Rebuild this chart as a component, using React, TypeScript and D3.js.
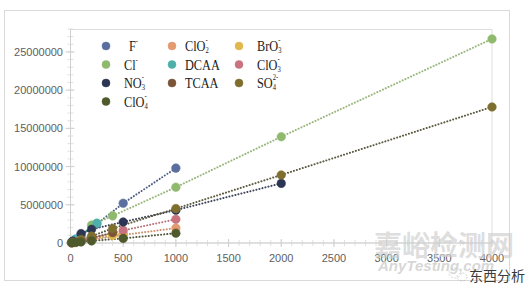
import React from "react";
import * as d3 from "d3";

// ---- data ----
const seriesNames = ["F", "ClO2", "BrO3", "Cl", "DCAA", "ClO3", "NO3", "TCAA", "SO4", "ClO4"];

const fX = [10, 50, 100, 250, 500, 1000];
const fY = [95000, 480000, 970000, 2500000, 5200000, 9800000];
const clo2X = [10, 50, 100, 200, 500, 1000];
const clo2Y = [25000, 110000, 220000, 420000, 1050000, 1950000];
const bro3X = [20, 100, 200, 400, 500];
const bro3Y = [50000, 250000, 500000, 1000000, 1250000];
const clX = [20, 50, 100, 200, 400, 1000, 2000, 4000];
const clY = [140000, 350000, 700000, 2350000, 3550000, 7300000, 13900000, 26700000];
const dcaaX = [10, 50, 100, 250];
const dcaaY = [110000, 520000, 1050000, 2600000];
const clo3X = [10, 50, 100, 200, 500, 1000];
const clo3Y = [30000, 160000, 320000, 650000, 1650000, 3100000];
const no3X = [20, 100, 200, 500, 1000, 2000];
const no3Y = [250000, 1230000, 1800000, 2750000, 4300000, 7800000];
const tcaaX = [20, 100, 200, 400];
const tcaaY = [70000, 330000, 650000, 1350000];
const so4X = [20, 100, 200, 400, 1000, 2000, 4000];
const so4Y = [90000, 450000, 900000, 1900000, 4500000, 8900000, 17800000];
const clo4X = [10, 50, 100, 200, 500, 1000];
const clo4Y = [15000, 70000, 140000, 280000, 600000, 1280000];

const xTicks = [0, 500, 1000, 1500, 2000, 2500, 3000, 3500, 4000];
const yTicks = [0, 5000000, 10000000, 15000000, 20000000, 25000000];

// label parts: [base, sub, sup]
const labelParts: [string, string, string][] = [
  ["F", "", "-"],
  ["ClO", "2", "-"],
  ["BrO", "3", "-"],
  ["Cl", "", "-"],
  ["DCAA", "", ""],
  ["ClO", "3", "-"],
  ["NO", "3", "-"],
  ["TCAA", "", ""],
  ["SO", "4", "2-"],
  ["ClO", "4", "-"],
];

const colors = ["#5b6f9e", "#e39a70", "#e0b84c", "#8fb96c", "#4fb0aa", "#c9737f", "#2c3654", "#7b5438", "#7f6f2e", "#4f5a2c"];
const lineColors = ["#3e4f7a", "#c9845e", "#c9a03a", "#8fb070", "#3f8f8a", "#b0606c", "#2a3148", "#6a4a32", "#4e4a30", "#3e4628"];

const seriesX = [fX, clo2X, bro3X, clX, dcaaX, clo3X, no3X, tcaaX, so4X, clo4X];
const seriesY = [fY, clo2Y, bro3Y, clY, dcaaY, clo3Y, no3Y, tcaaY, so4Y, clo4Y];

const W = 527;
const H = 290;
const left = 70.5;
const right = 492;
const top = 29;
const bottom = 243;

export default function App() {
  const x = d3.scaleLinear().domain([0, 4000]).range([left, right]);
  const y = d3.scaleLinear().domain([0, 28000000]).range([bottom, top]);
  const line = d3
    .line<[number, number]>()
    .x((d) => x(d[0]))
    .y((d) => y(d[1]));

  const xMinor = d3.range(0, 4001, 100);
  const yMinor = d3.range(0, 28000001, 1000000);

  const legendCols = [{ m: 106, t: 124 }, { m: 172, t: 185 }, { m: 239, t: 257 }];
  const legendRows = [46, 64.5, 83, 101.5];
  const labelFont = "'Liberation Serif', 'DejaVu Serif', serif";
  const tickFont = "'Liberation Sans', Arial, sans-serif";

  return (
    <svg width={W} height={H} style={{ position: "absolute", left: 0, top: 0, background: "#fff" }}>
      <rect x={0} y={0} width={W} height={H} fill="#fff" />
      {/* outer chart frame */}
      <rect x={4.5} y={10.5} width={505} height={270} fill="#fff" stroke="#d9d9d9" strokeWidth={1} />
      {/* plot area border */}
      <rect x={left} y={top + 0.5} width={right - left} height={bottom - top - 0.5} fill="none" stroke="#dedede" strokeWidth={1} />

      {/* minor ticks */}
      {xMinor.map((v) => (
        <line key={"xm" + v} x1={x(v)} x2={x(v)} y1={bottom - 3} y2={bottom + 3} stroke="#d9d9d9" strokeWidth={0.8} />
      ))}
      {yMinor.map((v) => (
        <line key={"ym" + v} x1={left - 3} x2={left + 3} y1={y(v)} y2={y(v)} stroke="#d9d9d9" strokeWidth={0.8} />
      ))}
      {/* major ticks */}
      {xTicks.map((v) => (
        <line key={"xt" + v} x1={x(v)} x2={x(v)} y1={bottom - 4} y2={bottom + 4} stroke="#cfcfcf" strokeWidth={1} />
      ))}
      {yTicks.map((v) => (
        <line key={"yt" + v} x1={left - 5} x2={left + 4} y1={y(v)} y2={y(v)} stroke="#cfcfcf" strokeWidth={1} />
      ))}
      {/* axis lines */}
      <line x1={left} x2={right} y1={bottom} y2={bottom} stroke="#d0d0d0" strokeWidth={1} />
      <line x1={left} x2={left} y1={top} y2={bottom} stroke="#d0d0d0" strokeWidth={1} />

      {/* tick labels */}
      {xTicks.map((v) => (
        <text key={"xl" + v} x={x(v)} y={262} textAnchor="middle" fontFamily={tickFont} fontSize={11} fill="#606060">
          {v}
        </text>
      ))}
      {yTicks.map((v) => (
        <text key={"yl" + v} x={63} y={y(v) + 4} textAnchor="end" fontFamily={tickFont} fontSize={11} fill="#606060">
          {v}
        </text>
      ))}

      {/* watermark */}
      <text x={374} y={256} fontFamily="'Noto Sans CJK SC', sans-serif" fontSize={28} fontWeight={700} fill="#cfcfcf" fillOpacity={0.7}>
        嘉峪检测网
      </text>
      <text x={378} y={271} fontFamily="'Liberation Sans', Arial, sans-serif" fontSize={15} fontStyle="italic" fontWeight={700} fill="#d0d0d0" fillOpacity={0.85}>
        AnyTesting.com
      </text>

      {/* series lines */}
      {seriesX.map((xs, i) => (
        <path
          key={"l" + i}
          d={line(xs.map((v, j) => [v, seriesY[i][j]]) as [number, number][]) || ""}
          fill="none"
          stroke={lineColors[i]}
          strokeWidth={2}
          strokeDasharray="0.1 3"
          strokeLinecap="round"
          opacity={0.9}
        />
      ))}
      {/* markers */}
      {seriesX.map((xs, i) =>
        xs.map((v, j) => (
          <circle key={"c" + i + "-" + j} cx={x(v)} cy={y(seriesY[i][j])} r={4.3} fill={colors[i]} stroke={colors[i]} strokeOpacity={0.5} strokeWidth={1} />
        ))
      )}

      {/* legend */}
      {seriesNames.map((name, i) => {
        const col = legendCols[i % 3];
        const row = legendRows[Math.floor(i / 3)];
        const [base, sub, sup] = labelParts[i];
        const tx = name === "F" ? col.t + 5 : col.t;
        return (
          <g key={"lg" + name}>
            <circle cx={col.m} cy={row} r={4} fill={colors[i]} stroke={colors[i]} strokeOpacity={0.5} />
            <g transform={`translate(${tx},${row + 5}) scale(0.82,1)`}>
              <text x={0} y={0} fontFamily={labelFont} fontSize={15} fill="#1a1a1a">
                {base}
                {sub ? (
                  <tspan fontSize={8} dy={2}>
                    {sub}
                  </tspan>
                ) : null}
                {sup ? (
                  <tspan fontSize={8} dx={sub ? -4 : 0} dy={sub ? -10 : -7}>
                    {sup}
                  </tspan>
                ) : null}
              </text>
            </g>
          </g>
        );
      })}

      {/* account mark */}
      <g opacity={0.5} stroke="#9a9a9a" fill="none" strokeWidth={0.8} strokeDasharray="2 1.5">
        <ellipse cx={455} cy={273} rx={6} ry={5} />
        <ellipse cx={462} cy={277} rx={5} ry={4} />
      </g>
      <text x={469} y={281} fontFamily="'Noto Sans CJK SC', sans-serif" fontSize={14} fill="#3a3a3a">
        东西分析
      </text>
    </svg>
  );
}
